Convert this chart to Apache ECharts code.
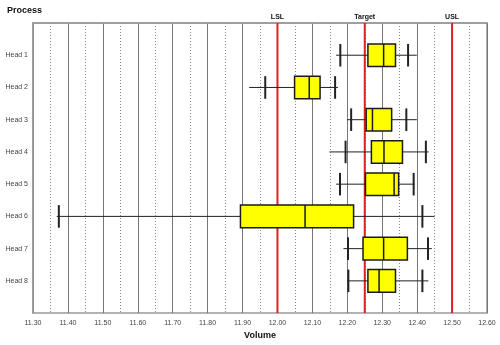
<!DOCTYPE html>
<html>
<head>
<meta charset="utf-8">
<script src="https://cdn.jsdelivr.net/npm/echarts@6/dist/echarts.min.js"></script>
<style>html,body{margin:0;padding:0;background:#fff;}#c{width:500px;height:345px;}</style>
</head>
<body>
<div id="c"></div>
<script>
// Categories
const heads = ['Head 1','Head 2','Head 3','Head 4','Head 5','Head 6','Head 7','Head 8'];
// Per head: whisker line min, left cap, Q1, median, Q3, right cap, whisker line max
const lineMin = [12.168, 11.919, 12.199, 12.149, 12.168, 11.368, 12.189, 12.199];
const capLow  = [12.180, 11.965, 12.211, 12.195, 12.179, 11.374, 12.202, 12.203];
const q1      = [12.259, 12.049, 12.254, 12.269, 12.252, 11.894, 12.245, 12.259];
const median  = [12.304, 12.091, 12.272, 12.305, 12.334, 12.079, 12.304, 12.291];
const q3      = [12.338, 12.122, 12.327, 12.358, 12.347, 12.218, 12.372, 12.338];
const capHigh = [12.374, 12.165, 12.369, 12.425, 12.390, 12.415, 12.431, 12.415];
const lineMax = [12.399, 12.173, 12.399, 12.433, 12.393, 12.450, 12.442, 12.432];
// Spec limits
const specValues = [12.00, 12.25, 12.50];
const specLabels = ['LSL', 'Target', 'USL'];
// Axis
const xMin = 11.30, xMax = 12.60, xStep = 0.10;

const boxData = heads.map((h, i) => [i + 1, lineMin[i], capLow[i], q1[i], median[i], q3[i], capHigh[i], lineMax[i]]);
const specData = specValues.map((v, i) => [v, i]);

const FONT = 'Liberation Sans';

function renderBox(params, api) {
  const idx = api.value(0);
  const v = [1,2,3,4,5,6,7].map(k => api.value(k));
  const y = api.coord([v[0], idx])[1];
  const band = api.size([0, 1])[1];
  const h = band * 0.70;
  const X = val => api.coord([val, idx])[0];
  const top = y - h / 2, bot = y + h / 2;
  const dark = '#1a1a1a';
  return {
    type: 'group',
    children: [
      { type: 'line', shape: { x1: X(v[0]), y1: y, x2: X(v[2]), y2: y }, style: { stroke: '#222', lineWidth: 1 } },
      { type: 'line', shape: { x1: X(v[4]), y1: y, x2: X(v[6]), y2: y }, style: { stroke: '#222', lineWidth: 1 } },
      { type: 'line', shape: { x1: X(v[1]), y1: top, x2: X(v[1]), y2: bot }, style: { stroke: '#222', lineWidth: 2 } },
      { type: 'line', shape: { x1: X(v[5]), y1: top, x2: X(v[5]), y2: bot }, style: { stroke: '#222', lineWidth: 2 } },
      { type: 'rect', shape: { x: X(v[2]), y: top, width: X(v[4]) - X(v[2]), height: h }, style: { fill: '#ffff00', stroke: dark, lineWidth: 1.5 } },
      { type: 'line', shape: { x1: X(v[3]), y1: top, x2: X(v[3]), y2: bot }, style: { stroke: dark, lineWidth: 1.5 } }
    ]
  };
}

function renderSpec(params, api) {
  const val = api.value(0);
  const p0 = api.coord([val, 0]);
  const p1 = api.coord([val, 9]);
  return {
    type: 'group',
    children: [
      { type: 'line', shape: { x1: p0[0], y1: p0[1], x2: p1[0], y2: p1[1] }, style: { stroke: '#e02020', lineWidth: 2 } },
      { type: 'text', x: p0[0], y: Math.min(p0[1], p1[1]) - 2,
        style: { text: specLabels[params.dataIndex], fill: '#111', font: 'bold 7px "' + FONT + '"', align: 'center', verticalAlign: 'bottom' } }
    ]
  };
}

const chart = echarts.init(document.getElementById('c'), null, { renderer: 'canvas' });
chart.setOption({
  animation: false,
  backgroundColor: '#fff',
  title: { text: 'Process', left: 2, top: 1, textStyle: { fontFamily: FONT, fontWeight: 'bold', fontSize: 9, color: '#111' } },
  grid: { left: 33, right: 13, top: 23, bottom: 27, show: true, borderColor: '#999', borderWidth: 1.5 },
  xAxis: {
    type: 'value', min: xMin, max: xMax, interval: xStep,
    name: 'Volume', nameLocation: 'middle', nameGap: 14,
    nameTextStyle: { fontFamily: FONT, fontWeight: 'bold', fontSize: 9, color: '#111' },
    axisLine: { show: true, lineStyle: { color: '#999', width: 1.5 } },
    axisTick: { show: false },
    axisLabel: { fontFamily: FONT, fontSize: 7, color: '#444', margin: 6, formatter: v => v.toFixed(2) },
    splitLine: { show: true, lineStyle: { color: '#777', width: 1 } },
    minorTick: { show: false, splitNumber: 2 },
    minorSplitLine: { show: true, lineStyle: { color: '#888', type: [1, 2], width: 1 } }
  },
  yAxis: {
    type: 'value', min: 0, max: 9, interval: 1, inverse: true,
    axisLine: { show: true, lineStyle: { color: '#999', width: 1.5 } },
    axisTick: { show: false },
    splitLine: { show: false },
    axisLabel: { fontFamily: FONT, fontSize: 7, color: '#444', margin: 5,
      formatter: v => (v >= 1 && v <= heads.length) ? heads[v - 1] : '' }
  },
  series: [
    { type: 'custom', renderItem: renderSpec, data: specData, encode: { x: 0 }, clip: false, z: 2 },
    { type: 'custom', renderItem: renderBox, data: boxData, encode: { x: [1,2,3,4,5,6,7], y: 0 }, z: 3 }
  ]
});
</script>
</body>
</html>
